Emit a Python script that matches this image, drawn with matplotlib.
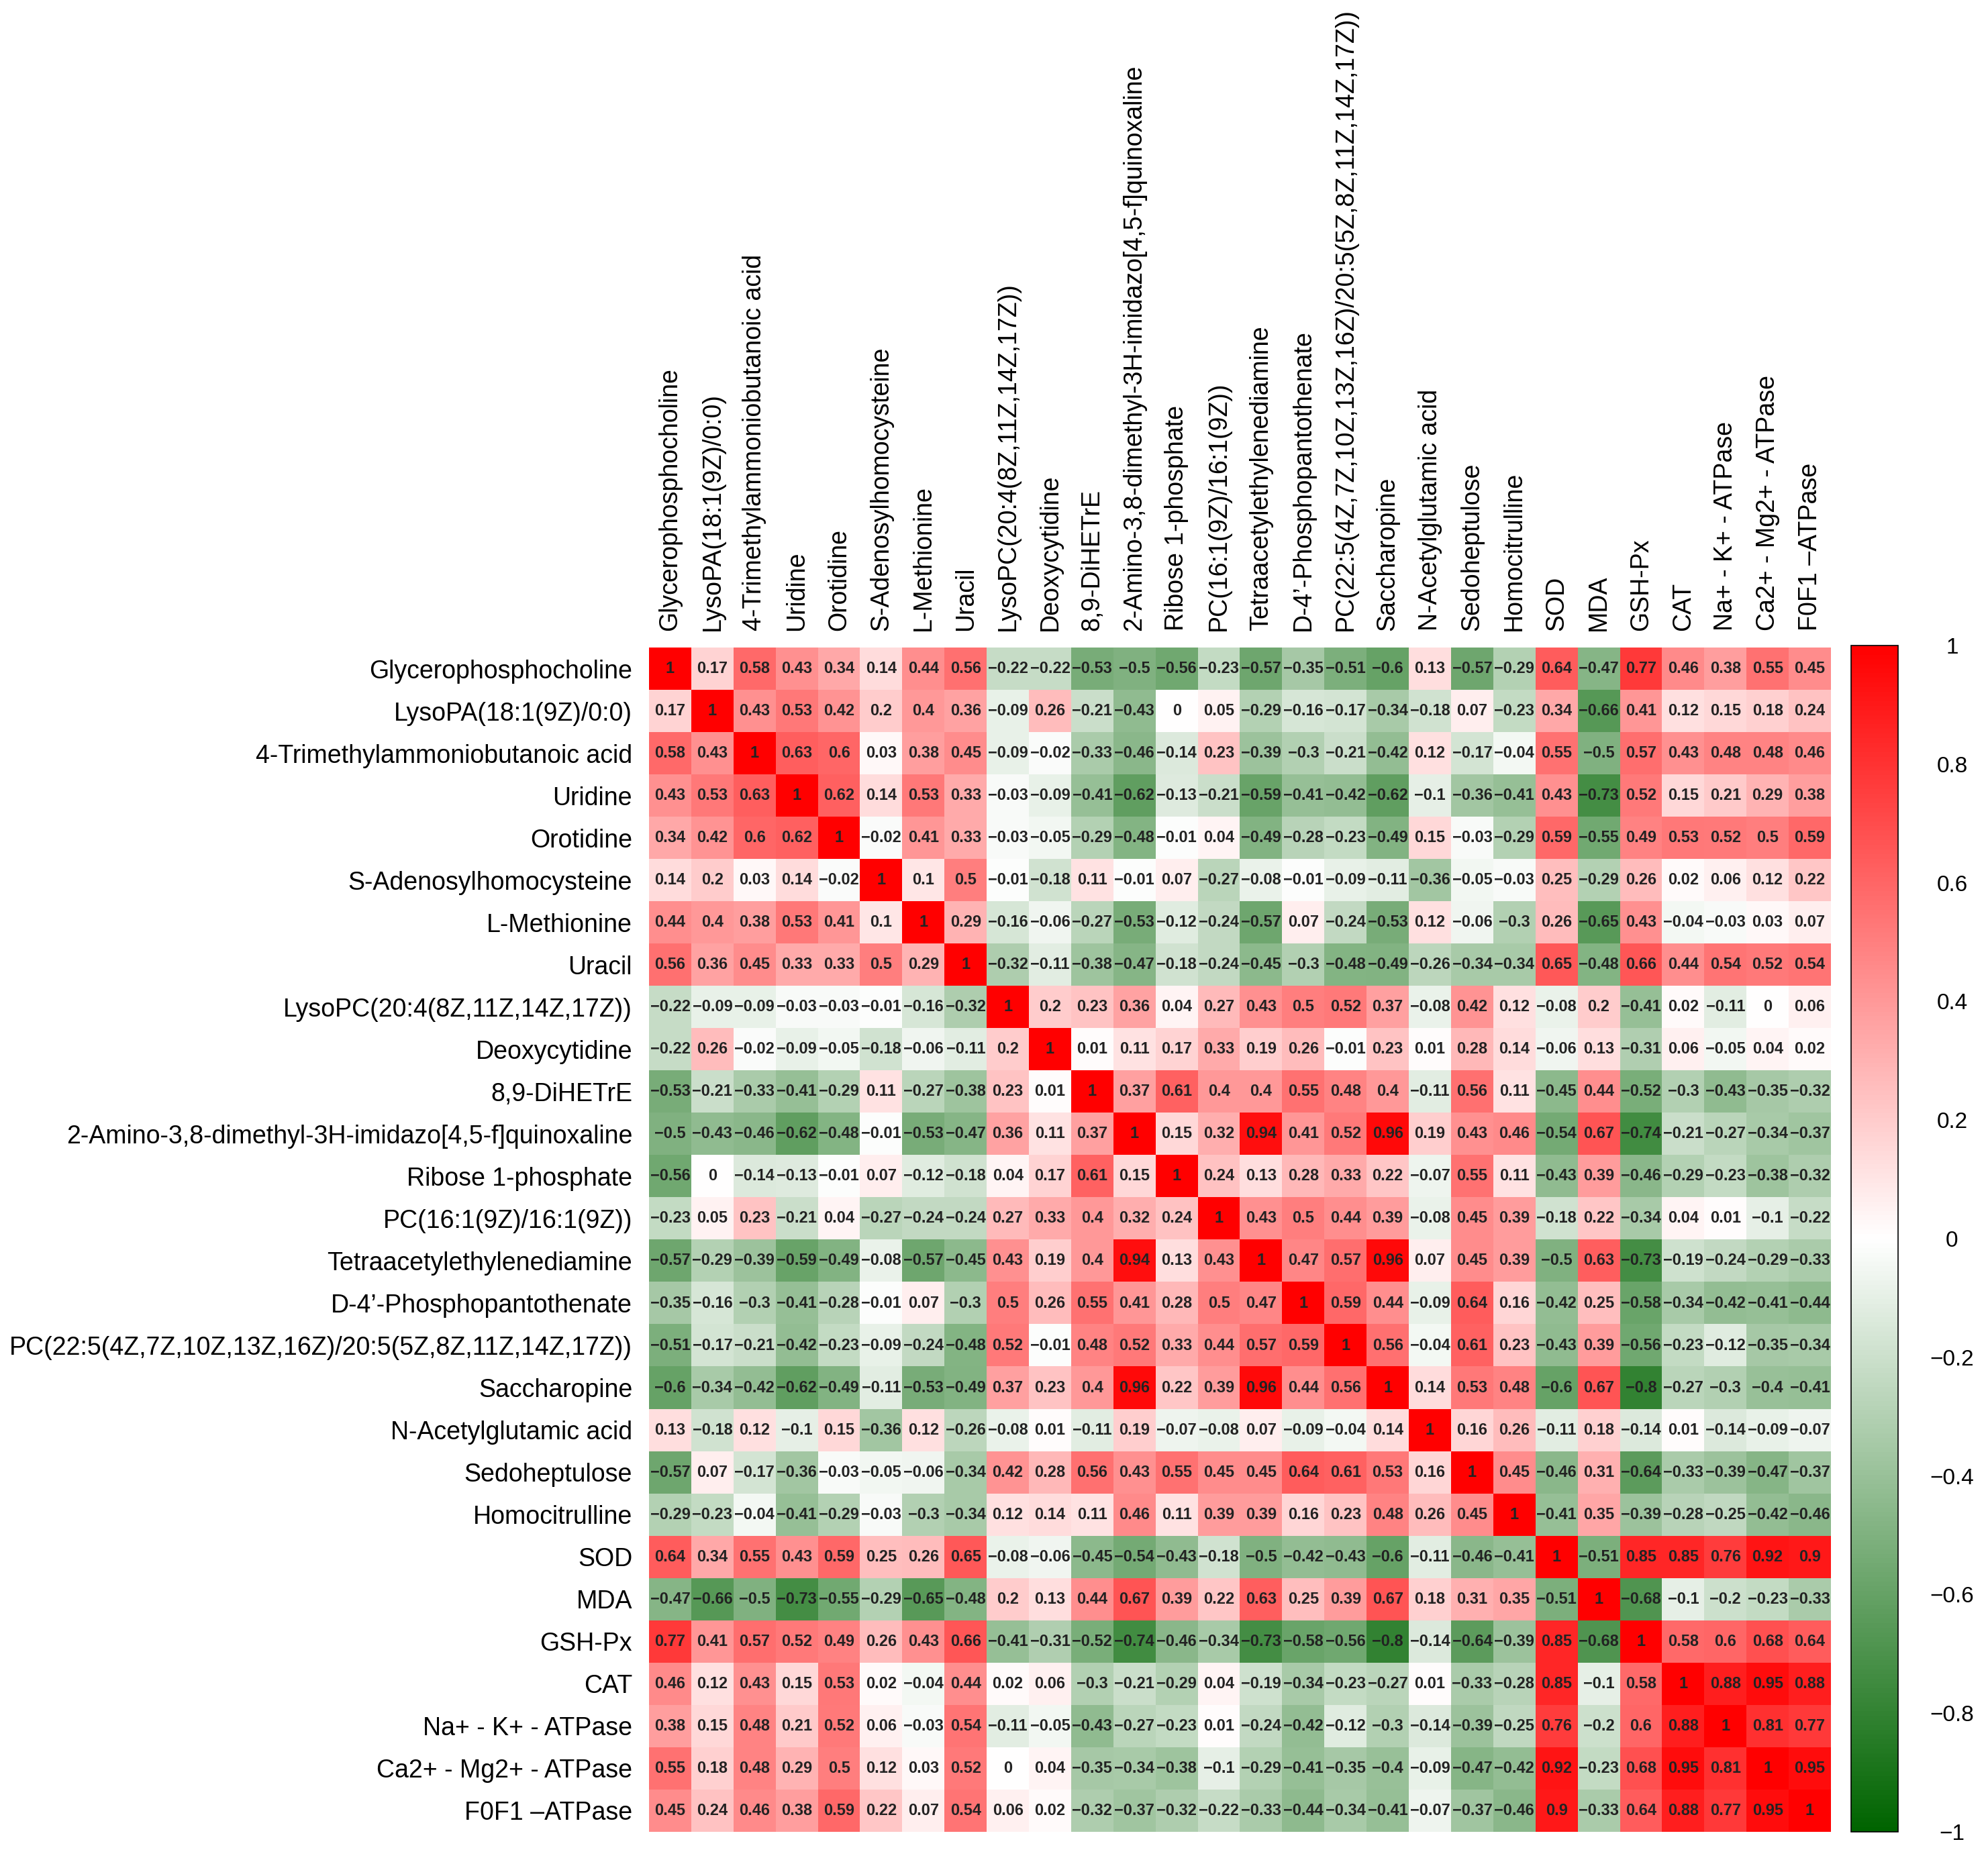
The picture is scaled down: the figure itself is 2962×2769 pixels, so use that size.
import numpy as np
import matplotlib
matplotlib.use("Agg")
import matplotlib.pyplot as plt
from matplotlib.colors import LinearSegmentedColormap

plt.rcParams['font.family'] = ['Liberation Sans', 'DejaVu Sans']

# 变量名
labels = [
    "Glycerophosphocholine",
    "LysoPA(18:1(9Z)/0:0)",
    "4-Trimethylammoniobutanoic acid",
    "Uridine",
    "Orotidine",
    "S-Adenosylhomocysteine",
    "L-Methionine",
    "Uracil",
    "LysoPC(20:4(8Z,11Z,14Z,17Z))",
    "Deoxycytidine",
    "8,9-DiHETrE",
    "2-Amino-3,8-dimethyl-3H-imidazo[4,5-f]quinoxaline",
    "Ribose 1-phosphate",
    "PC(16:1(9Z)/16:1(9Z))",
    "Tetraacetylethylenediamine",
    "D-4\u2019-Phosphopantothenate",
    "PC(22:5(4Z,7Z,10Z,13Z,16Z)/20:5(5Z,8Z,11Z,14Z,17Z))",
    "Saccharopine",
    "N-Acetylglutamic acid",
    "Sedoheptulose",
    "Homocitrulline",
    "SOD",
    "MDA",
    "GSH-Px",
    "CAT",
    "Na+ - K+ - ATPase",
    "Ca2+ - Mg2+ - ATPase",
    "F0F1 \u2013ATPase",
]

# 相关系数矩阵 (按行)
corr = [
    [1, 0.17, 0.58, 0.43, 0.34, 0.14, 0.44, 0.56, -0.22, -0.22, -0.53, -0.5, -0.56, -0.23, -0.57, -0.35, -0.51, -0.6, 0.13, -0.57, -0.29, 0.64, -0.47, 0.77, 0.46, 0.38, 0.55, 0.45],
    [0.17, 1, 0.43, 0.53, 0.42, 0.2, 0.4, 0.36, -0.09, 0.26, -0.21, -0.43, 0, 0.05, -0.29, -0.16, -0.17, -0.34, -0.18, 0.07, -0.23, 0.34, -0.66, 0.41, 0.12, 0.15, 0.18, 0.24],
    [0.58, 0.43, 1, 0.63, 0.6, 0.03, 0.38, 0.45, -0.09, -0.02, -0.33, -0.46, -0.14, 0.23, -0.39, -0.3, -0.21, -0.42, 0.12, -0.17, -0.04, 0.55, -0.5, 0.57, 0.43, 0.48, 0.48, 0.46],
    [0.43, 0.53, 0.63, 1, 0.62, 0.14, 0.53, 0.33, -0.03, -0.09, -0.41, -0.62, -0.13, -0.21, -0.59, -0.41, -0.42, -0.62, -0.1, -0.36, -0.41, 0.43, -0.73, 0.52, 0.15, 0.21, 0.29, 0.38],
    [0.34, 0.42, 0.6, 0.62, 1, -0.02, 0.41, 0.33, -0.03, -0.05, -0.29, -0.48, -0.01, 0.04, -0.49, -0.28, -0.23, -0.49, 0.15, -0.03, -0.29, 0.59, -0.55, 0.49, 0.53, 0.52, 0.5, 0.59],
    [0.14, 0.2, 0.03, 0.14, -0.02, 1, 0.1, 0.5, -0.01, -0.18, 0.11, -0.01, 0.07, -0.27, -0.08, -0.01, -0.09, -0.11, -0.36, -0.05, -0.03, 0.25, -0.29, 0.26, 0.02, 0.06, 0.12, 0.22],
    [0.44, 0.4, 0.38, 0.53, 0.41, 0.1, 1, 0.29, -0.16, -0.06, -0.27, -0.53, -0.12, -0.24, -0.57, 0.07, -0.24, -0.53, 0.12, -0.06, -0.3, 0.26, -0.65, 0.43, -0.04, -0.03, 0.03, 0.07],
    [0.56, 0.36, 0.45, 0.33, 0.33, 0.5, 0.29, 1, -0.32, -0.11, -0.38, -0.47, -0.18, -0.24, -0.45, -0.3, -0.48, -0.49, -0.26, -0.34, -0.34, 0.65, -0.48, 0.66, 0.44, 0.54, 0.52, 0.54],
    [-0.22, -0.09, -0.09, -0.03, -0.03, -0.01, -0.16, -0.32, 1, 0.2, 0.23, 0.36, 0.04, 0.27, 0.43, 0.5, 0.52, 0.37, -0.08, 0.42, 0.12, -0.08, 0.2, -0.41, 0.02, -0.11, 0, 0.06],
    [-0.22, 0.26, -0.02, -0.09, -0.05, -0.18, -0.06, -0.11, 0.2, 1, 0.01, 0.11, 0.17, 0.33, 0.19, 0.26, -0.01, 0.23, 0.01, 0.28, 0.14, -0.06, 0.13, -0.31, 0.06, -0.05, 0.04, 0.02],
    [-0.53, -0.21, -0.33, -0.41, -0.29, 0.11, -0.27, -0.38, 0.23, 0.01, 1, 0.37, 0.61, 0.4, 0.4, 0.55, 0.48, 0.4, -0.11, 0.56, 0.11, -0.45, 0.44, -0.52, -0.3, -0.43, -0.35, -0.32],
    [-0.5, -0.43, -0.46, -0.62, -0.48, -0.01, -0.53, -0.47, 0.36, 0.11, 0.37, 1, 0.15, 0.32, 0.94, 0.41, 0.52, 0.96, 0.19, 0.43, 0.46, -0.54, 0.67, -0.74, -0.21, -0.27, -0.34, -0.37],
    [-0.56, 0, -0.14, -0.13, -0.01, 0.07, -0.12, -0.18, 0.04, 0.17, 0.61, 0.15, 1, 0.24, 0.13, 0.28, 0.33, 0.22, -0.07, 0.55, 0.11, -0.43, 0.39, -0.46, -0.29, -0.23, -0.38, -0.32],
    [-0.23, 0.05, 0.23, -0.21, 0.04, -0.27, -0.24, -0.24, 0.27, 0.33, 0.4, 0.32, 0.24, 1, 0.43, 0.5, 0.44, 0.39, -0.08, 0.45, 0.39, -0.18, 0.22, -0.34, 0.04, 0.01, -0.1, -0.22],
    [-0.57, -0.29, -0.39, -0.59, -0.49, -0.08, -0.57, -0.45, 0.43, 0.19, 0.4, 0.94, 0.13, 0.43, 1, 0.47, 0.57, 0.96, 0.07, 0.45, 0.39, -0.5, 0.63, -0.73, -0.19, -0.24, -0.29, -0.33],
    [-0.35, -0.16, -0.3, -0.41, -0.28, -0.01, 0.07, -0.3, 0.5, 0.26, 0.55, 0.41, 0.28, 0.5, 0.47, 1, 0.59, 0.44, -0.09, 0.64, 0.16, -0.42, 0.25, -0.58, -0.34, -0.42, -0.41, -0.44],
    [-0.51, -0.17, -0.21, -0.42, -0.23, -0.09, -0.24, -0.48, 0.52, -0.01, 0.48, 0.52, 0.33, 0.44, 0.57, 0.59, 1, 0.56, -0.04, 0.61, 0.23, -0.43, 0.39, -0.56, -0.23, -0.12, -0.35, -0.34],
    [-0.6, -0.34, -0.42, -0.62, -0.49, -0.11, -0.53, -0.49, 0.37, 0.23, 0.4, 0.96, 0.22, 0.39, 0.96, 0.44, 0.56, 1, 0.14, 0.53, 0.48, -0.6, 0.67, -0.8, -0.27, -0.3, -0.4, -0.41],
    [0.13, -0.18, 0.12, -0.1, 0.15, -0.36, 0.12, -0.26, -0.08, 0.01, -0.11, 0.19, -0.07, -0.08, 0.07, -0.09, -0.04, 0.14, 1, 0.16, 0.26, -0.11, 0.18, -0.14, 0.01, -0.14, -0.09, -0.07],
    [-0.57, 0.07, -0.17, -0.36, -0.03, -0.05, -0.06, -0.34, 0.42, 0.28, 0.56, 0.43, 0.55, 0.45, 0.45, 0.64, 0.61, 0.53, 0.16, 1, 0.45, -0.46, 0.31, -0.64, -0.33, -0.39, -0.47, -0.37],
    [-0.29, -0.23, -0.04, -0.41, -0.29, -0.03, -0.3, -0.34, 0.12, 0.14, 0.11, 0.46, 0.11, 0.39, 0.39, 0.16, 0.23, 0.48, 0.26, 0.45, 1, -0.41, 0.35, -0.39, -0.28, -0.25, -0.42, -0.46],
    [0.64, 0.34, 0.55, 0.43, 0.59, 0.25, 0.26, 0.65, -0.08, -0.06, -0.45, -0.54, -0.43, -0.18, -0.5, -0.42, -0.43, -0.6, -0.11, -0.46, -0.41, 1, -0.51, 0.85, 0.85, 0.76, 0.92, 0.9],
    [-0.47, -0.66, -0.5, -0.73, -0.55, -0.29, -0.65, -0.48, 0.2, 0.13, 0.44, 0.67, 0.39, 0.22, 0.63, 0.25, 0.39, 0.67, 0.18, 0.31, 0.35, -0.51, 1, -0.68, -0.1, -0.2, -0.23, -0.33],
    [0.77, 0.41, 0.57, 0.52, 0.49, 0.26, 0.43, 0.66, -0.41, -0.31, -0.52, -0.74, -0.46, -0.34, -0.73, -0.58, -0.56, -0.8, -0.14, -0.64, -0.39, 0.85, -0.68, 1, 0.58, 0.6, 0.68, 0.64],
    [0.46, 0.12, 0.43, 0.15, 0.53, 0.02, -0.04, 0.44, 0.02, 0.06, -0.3, -0.21, -0.29, 0.04, -0.19, -0.34, -0.23, -0.27, 0.01, -0.33, -0.28, 0.85, -0.1, 0.58, 1, 0.88, 0.95, 0.88],
    [0.38, 0.15, 0.48, 0.21, 0.52, 0.06, -0.03, 0.54, -0.11, -0.05, -0.43, -0.27, -0.23, 0.01, -0.24, -0.42, -0.12, -0.3, -0.14, -0.39, -0.25, 0.76, -0.2, 0.6, 0.88, 1, 0.81, 0.77],
    [0.55, 0.18, 0.48, 0.29, 0.5, 0.12, 0.03, 0.52, 0, 0.04, -0.35, -0.34, -0.38, -0.1, -0.29, -0.41, -0.35, -0.4, -0.09, -0.47, -0.42, 0.92, -0.23, 0.68, 0.95, 0.81, 1, 0.95],
    [0.45, 0.24, 0.46, 0.38, 0.59, 0.22, 0.07, 0.54, 0.06, 0.02, -0.32, -0.37, -0.32, -0.22, -0.33, -0.44, -0.34, -0.41, -0.07, -0.37, -0.46, 0.9, -0.33, 0.64, 0.88, 0.77, 0.95, 1],
]

cbar_ticks = [1, 0.8, 0.6, 0.4, 0.2, 0, -0.2, -0.4, -0.6, -0.8, -1]


def fmt(v):
    # R风格的数字, 负号用长减号
    s = "%g" % v
    return s.replace("-", "\u2212")


data = np.array(corr)
n = len(labels)

# 绿-白-红 色带
cmap = LinearSegmentedColormap.from_list("gwr", ["#006400", "white", "#ff0000"])

fig = plt.figure(figsize=(29.62, 27.69), dpi=100)
ax = fig.add_axes([0.3265, 0.0141, 0.5945, 0.6374])
im = ax.imshow(data, cmap=cmap, vmin=-1, vmax=1, aspect="auto", interpolation="nearest")

# 格子里的数字
for i in range(n):
    for j in range(n):
        ax.text(j, i, fmt(data[i, j]), ha="center", va="center",
                fontsize=17, fontweight="bold", color="#222222")

# 坐标轴标签
ax.set_xticks(np.arange(n))
ax.set_yticks(np.arange(n))
ax.xaxis.tick_top()
ax.set_xticklabels(labels, rotation=90, fontsize=27)
ax.set_yticklabels(labels, fontsize=27)
ax.tick_params(length=0, pad=18)
for s in ax.spines.values():
    s.set_visible(False)

# 色标
cax = fig.add_axes([0.9311, 0.0141, 0.0236, 0.6385])
cb = fig.colorbar(im, cax=cax, ticks=cbar_ticks)
cb.ax.set_yticklabels([fmt(t) for t in cbar_ticks])
cb.ax.tick_params(length=0, pad=58, labelsize=24)
for lab in cb.ax.get_yticklabels():
    lab.set_ha("center")
cb.outline.set_linewidth(1.2)

plt.savefig("out.png", dpi=100)
